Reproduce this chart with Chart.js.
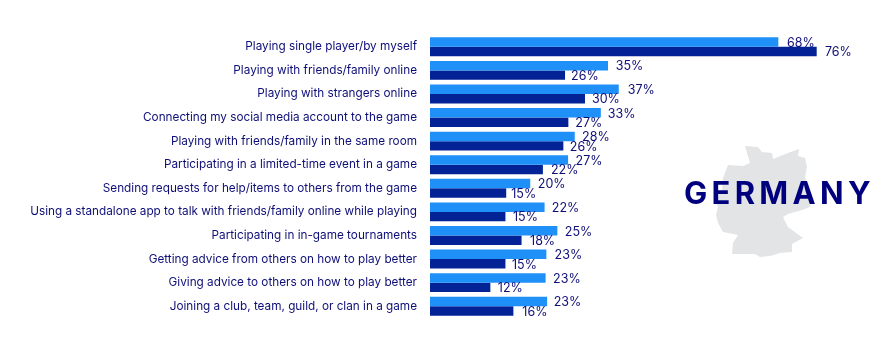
<!DOCTYPE html>
<html>
<head>
<meta charset="utf-8">
<title>Germany</title>
<script src="https://cdn.jsdelivr.net/npm/chart.js@4"></script>
<style>
  html, body { margin: 0; background: #fff; }
  #wrap { position: relative; width: 875px; height: 354px; }
</style>
</head>
<body>
<div id="wrap"><canvas id="chart"></canvas></div>
<script>
var categories = [
    'Playing single player/by myself',
    'Playing with friends/family online',
    'Playing with strangers online',
    'Connecting my social media account to the game',
    'Playing with friends/family in the same room',
    'Participating in a limited-time event in a game',
    'Sending requests for help/items to others from the game',
    'Using a standalone app to talk with friends/family online while playing',
    'Participating in in-game tournaments',
    'Getting advice from others on how to play better',
    'Giving advice to others on how to play better',
    'Joining a club, team, guild, or clan in a game'
];
var seriesA = [68.1, 34.8, 36.9, 33.4, 28.3, 27.0, 19.6, 22.4, 24.9, 22.75, 22.6, 22.9];
var seriesB = [75.6, 26.4, 30.3, 27.05, 26.07, 22.07, 14.9, 14.75, 17.9, 14.75, 11.8, 16.3];

var navy = '#0e0e78';

// hand placed gaps between bar end and value label, as in the original
var labelGaps = [
    [8.7, 7.7, 9, 7, 7.3, 7.5, 7.5, 7.2, 7.5, 8.2, 7.5, 6.5],
    [8.3, 6, 7, 7, 6.5, 8, 5, 7.5, 8.5, 6.5, 7.5, 9]
];

// outline of the country behind the title, in page pixels
var shape = [[745,146],[758,147],[762,152],[772,153],[773,159],[788,153],[799,149],[798,156],
    [805,158],[807,167],[805,177],[807,185],[812,195],[810,207],[802,210],[788,214],[783,217],
    [788,227],[803,238],[792,244],[792,252],[780,253],[770,256],[760,257],[755,254],[732,254],
    [733,243],[738,235],[723,232],[718,223],[716,215],[718,207],[715,200],[722,190],[723,178],
    [728,165],[743,166],[750,163],[747,153]];

var backdrop = {
    id: 'backdrop',
    beforeDraw: function (chart) {
        var ctx = chart.ctx;
        ctx.save();
        ctx.fillStyle = '#e3e4e6';
        ctx.beginPath();
        shape.forEach(function (p, i) {
            if (i === 0) ctx.moveTo(p[0], p[1]); else ctx.lineTo(p[0], p[1]);
        });
        ctx.closePath();
        ctx.fill();
        ctx.restore();
    },
    afterDraw: function (chart) {
        var ctx = chart.ctx;
        ctx.save();
        ctx.fillStyle = '#00007f';
        ctx.font = '700 31px Inter, sans-serif';
        ctx.letterSpacing = '4.3px';
        ctx.textBaseline = 'alphabetic';
        ctx.fillText('GERMANY', 684, 204);
        ctx.restore();
    }
};

var valueLabels = {
    id: 'valueLabels',
    afterDatasetsDraw: function (chart) {
        var ctx = chart.ctx;
        ctx.save();
        ctx.font = '12.5px Inter, sans-serif';
        ctx.fillStyle = navy;
        ctx.textBaseline = 'middle';
        chart.data.datasets.forEach(function (ds, d) {
            chart.getDatasetMeta(d).data.forEach(function (bar, i) {
                ctx.fillText(Math.round(ds.data[i]) + '%', bar.x + labelGaps[d][i], bar.y + 1);
            });
        });
        ctx.restore();
    }
};

new Chart(document.getElementById('chart'), {
    type: 'bar',
    data: {
        labels: categories,
        datasets: [
            { label: 'A', data: seriesA, backgroundColor: '#1e90f8' },
            { label: 'B', data: seriesB, backgroundColor: '#022295' }
        ]
    },
    options: {
        indexAxis: 'y',
        animation: false,
        responsive: true,
        maintainAspectRatio: false,
        layout: { padding: { top: 35, bottom: 36 } },
        datasets: { bar: { categoryPercentage: 0.8, barPercentage: 1 } },
        plugins: {
            legend: { display: false },
            title: { display: false },
            tooltip: { enabled: false }
        },
        scales: {
            x: { display: false, min: 0, max: 87 },
            y: {
                afterFit: function (scale) { scale.width = 430; },
                grid: { display: false, drawTicks: false },
                border: { display: false },
                ticks: {
                    padding: 13,
                    color: navy,
                    autoSkip: false,
                    font: { family: 'Inter, sans-serif', size: 11.75 }
                }
            }
        }
    },
    plugins: [backdrop, valueLabels]
});
</script>
</body>
</html>
